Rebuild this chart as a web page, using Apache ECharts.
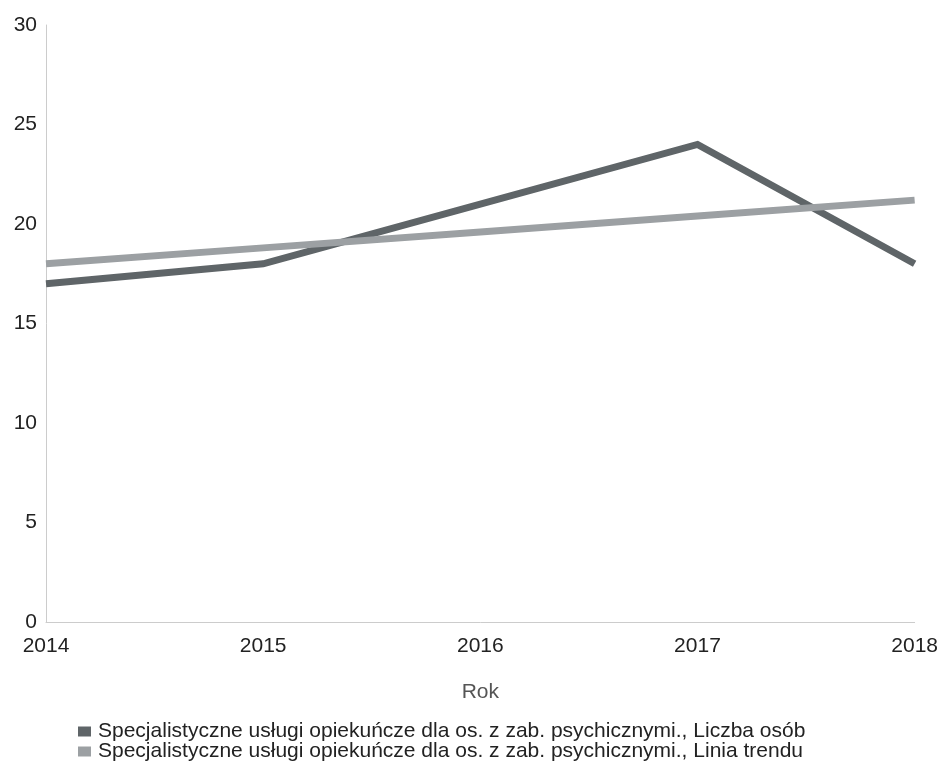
<!DOCTYPE html>
<html><head><meta charset="utf-8">
<script src="https://cdn.jsdelivr.net/npm/echarts@6/dist/echarts.min.js"></script>
<style>html,body{margin:0;padding:0;background:#fff}#c{width:941px;height:771px}</style>
</head><body><div id="c"></div>
<script>
const years = ['2014','2015','2016','2017','2018'];
const liczbaOsob = [17, 18, 21, 24, 18];
const liniaTrendu = [18.0, 18.8, 19.6, 20.4, 21.2];
const seriesNames = [
  'Specjalistyczne usługi opiekuńcze dla os. z zab. psychicznymi., Liczba osób',
  'Specjalistyczne usługi opiekuńcze dla os. z zab. psychicznymi., Linia trendu'
];
const chart = echarts.init(document.getElementById('c'));
const font = 'Liberation Sans';
const legendBase = {
  orient: 'vertical', left: 78, icon: 'rect', itemWidth: 13, itemHeight: 10,
  padding: 0, textStyle: {fontFamily: font, fontSize: 21, color: '#222', padding: [0, 0, 0, 2]}
};
chart.setOption({
  animation: false,
  backgroundColor: '#fff',
  grid: {left: 46, right: 26, top: 25, bottom: 149, containLabel: false},
  legend: [
    Object.assign({}, legendBase, {top: 721, data: [seriesNames[0]]}),
    Object.assign({}, legendBase, {top: 741, data: [seriesNames[1]]})
  ],
  xAxis: {
    type: 'category', data: years, boundaryGap: false,
    name: 'Rok', nameLocation: 'middle', nameGap: 60,
    nameTextStyle: {fontFamily: font, fontSize: 21, color: '#555'},
    axisLine: {lineStyle: {color: '#ccc', width: 1}},
    axisTick: {show: false},
    axisLabel: {fontFamily: font, fontSize: 21, color: '#222', margin: 14}
  },
  yAxis: {
    type: 'value', min: 0, max: 30, interval: 5,
    axisLine: {show: true, lineStyle: {color: '#ccc', width: 1}},
    axisTick: {show: false},
    splitLine: {show: false},
    axisLabel: {fontFamily: font, fontSize: 21, color: '#222', margin: 9}
  },
  series: [
    {name: seriesNames[0], type: 'line', data: liczbaOsob, symbol: 'none',
     lineStyle: {width: 7, color: '#5f6568', join: 'miter'}, itemStyle: {color: '#5f6568'}, z: 2},
    {name: seriesNames[1], type: 'line', data: liniaTrendu, symbol: 'none',
     lineStyle: {width: 7, color: '#9ca0a3'}, itemStyle: {color: '#9ca0a3'}, z: 3}
  ]
});
</script></body></html>
